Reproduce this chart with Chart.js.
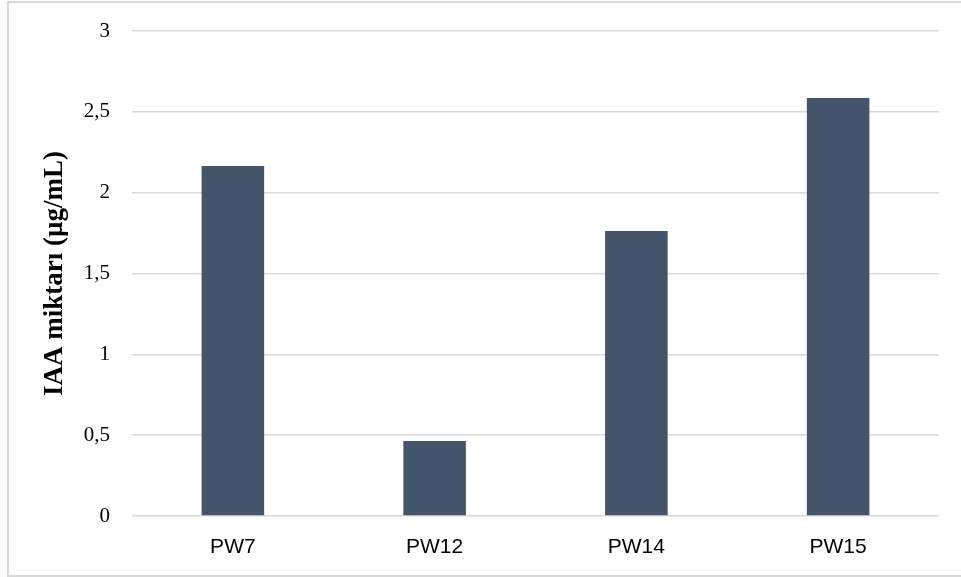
<!DOCTYPE html>
<html>
<head>
<meta charset="utf-8">
<script src="https://cdn.jsdelivr.net/npm/chart.js@4/dist/chart.umd.min.js"></script>
<style>
  html, body { margin: 0; padding: 0; background: #ffffff; }
  #wrap { position: relative; width: 961px; height: 577px; }
  #frame { position: absolute; left: 7px; top: 1px; width: 970px; height: 576px;
           border: 2px solid #d9d9d9; box-sizing: border-box; pointer-events: none; }
</style>
</head>
<body>
<div id="wrap">
  <canvas id="c" width="961" height="577"></canvas>
  <div id="frame"></div>
</div>
<script>
// Strains and measured IAA amounts
const strains = ['PW7', 'PW12', 'PW14', 'PW15'];
const iaaValues = [2.165, 0.464, 1.763, 2.585];
const yTickValues = [0, 0.5, 1, 1.5, 2, 2.5, 3];
const yTitle = 'IAA miktarı (µg/mL)';

const barColor = '#44546a';
const gridColor = '#d9d9d9';

new Chart(document.getElementById('c'), {
  type: 'bar',
  data: {
    labels: strains,
    datasets: [{
      data: iaaValues,
      backgroundColor: barColor,
      borderWidth: 0,
      categoryPercentage: 1,
      barPercentage: 0.31
    }]
  },
  options: {
    responsive: false,
    animation: false,
    layout: { padding: { left: 0, right: 22, top: 31, bottom: 0 } },
    plugins: { legend: { display: false }, tooltip: { enabled: false } },
    scales: {
      x: {
        grid: { display: false, drawTicks: false },
        border: { display: false },
        ticks: {
          padding: 19,
          color: '#000000',
          font: { family: 'Liberation Sans', size: 21 }
        },
        afterFit: s => { s.height = 61; }
      },
      y: {
        min: 0,
        max: 3,
        afterBuildTicks: s => { s.ticks = yTickValues.map(v => ({ value: v })); },
        grid: { color: gridColor, lineWidth: 1.5, drawTicks: false },
        border: { display: false },
        ticks: {
          padding: 22,
          color: '#000000',
          // compact line height keeps the label overhang inside the top padding
          font: { family: 'Liberation Serif', size: 21, lineHeight: 0.7 },
          callback: v => String(v).replace('.', ',')
        },
        title: {
          display: true,
          text: yTitle,
          color: '#000000',
          font: { family: 'Liberation Serif', size: 27, weight: 'bold' },
          padding: { top: 39, bottom: 0 }
        },
        afterFit: s => { s.width = 132; }
      }
    }
  }
});
</script>
</body>
</html>
